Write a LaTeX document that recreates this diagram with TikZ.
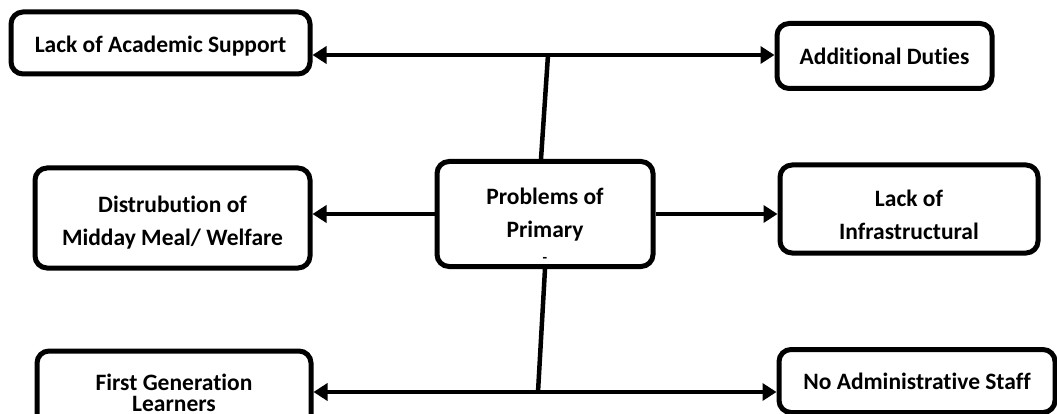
\documentclass[tikz,border=0pt]{standalone}
\usepackage{fontspec}
\setmainfont[Ligatures=NoCommon]{Carlito}
\usetikzlibrary{arrows.meta}

\newcommand{\lift}[1]{\rule{0pt}{#1}}

\begin{document}
\begin{tikzpicture}[x=1pt, y=-1pt,
    box/.style={draw, line width=5pt, rounded corners=12pt, align=center,
        inner sep=0pt, font=\bfseries\fontsize{23.5}{33}\selectfont},
    link/.style={line width=4.5pt},
    arr/.style={link, -{Triangle[length=14pt, width=17pt]}}]
    \useasboundingbox (0,0) rectangle (1057,414);
    % boxes
    \node[box, minimum width=299pt, minimum height=62pt, text height=23pt] (acad) at (160.5,43)
        {Lack of Academic Support};
    \node[box, minimum width=215pt, minimum height=65pt] (duties) at (884.5,56)
        {Additional Duties};
    \node[box, minimum width=275pt, minimum height=100pt] (meal) at (172.5,218)
        {\lift{25pt}Distrubution of\\Midday Meal/ Welfare};
    \node[box, minimum width=216pt, minimum height=105pt] (prob) at (545,214)
        {\lift{38pt}Problems of\\Primary\\[-8pt]{\fontsize{15}{15}\selectfont -}};
    \node[box, minimum width=258pt, minimum height=88pt] (infra) at (909,209)
        {\lift{28pt}Lack of\\Infrastructural};
    \node[box, minimum width=274pt, minimum height=84pt,
        font=\bfseries\fontsize{23.5}{21.5}\selectfont] (learn) at (174,393)
        {First Generation\\Learners};
    \node[box, minimum width=276pt, minimum height=63pt] (admin) at (917,381)
        {No Administrative Staff};
    % trunk
    \coordinate (top) at (548,55);
    \coordinate (bot) at (538,392);
    \draw[link] (top) -- ([xshift=-4pt]prob.north);
    \draw[link] (prob.south) -- (bot);
    % branches
    \draw[arr] (top) -- (acad.east |- top);
    \draw[arr] (top) -- (duties.west |- top);
    \draw[arr] (prob.west) -- (meal.east |- prob.west);
    \draw[arr] (prob.east) -- (infra.west |- prob.east);
    \draw[arr] (bot) -- (learn.east |- bot);
    \draw[arr] (bot) -- (admin.west |- bot);
\end{tikzpicture}
\end{document}
